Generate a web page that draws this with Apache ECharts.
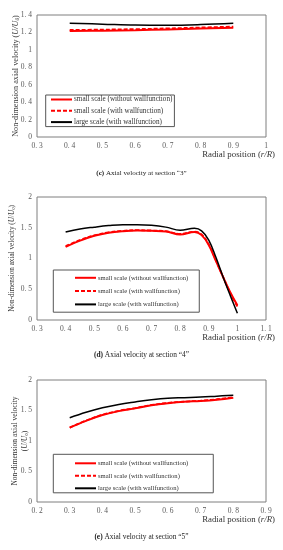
<!DOCTYPE html>
<html><head><meta charset="utf-8">
<script src="https://cdn.jsdelivr.net/npm/echarts@6/dist/echarts.min.js"></script>
<style>html,body{margin:0;padding:0;background:#fff}#c{width:283px;height:550px}</style>
</head><body><div id="c"></div>
<script>
// ---- data ----
const seriesNames = ['small scale (without wallfunction)', 'small scale (with wallfunction)', 'large scale (with wallfunction)'];

const x1 = [0.4, 0.5, 0.6, 0.7, 0.8, 0.9];
const red1 = [1.215, 1.22, 1.225, 1.235, 1.245, 1.255];
const dash1 = [1.228, 1.232, 1.238, 1.246, 1.256, 1.267];
const black1 = [1.305, 1.295, 1.285, 1.283, 1.29, 1.305];

const x2 = [0.4, 0.45, 0.5, 0.55, 0.6, 0.65, 0.7, 0.75, 0.8, 0.85, 0.875, 0.9, 0.925, 0.95, 0.975, 1.0];
const red2 = [1.19, 1.29, 1.37, 1.42, 1.445, 1.455, 1.45, 1.44, 1.39, 1.43, 1.38, 1.22, 0.96, 0.70, 0.45, 0.24];
const dash2 = [1.20, 1.30, 1.375, 1.425, 1.45, 1.46, 1.455, 1.445, 1.40, 1.435, 1.39, 1.23, 0.97, 0.70, 0.44, 0.22];
const black2 = [1.43, 1.48, 1.51, 1.535, 1.55, 1.55, 1.54, 1.51, 1.46, 1.49, 1.45, 1.30, 1.02, 0.70, 0.40, 0.11];

const x3 = [0.3, 0.35, 0.4, 0.45, 0.5, 0.55, 0.6, 0.65, 0.7, 0.75, 0.8];
const red3 = [1.22, 1.33, 1.425, 1.49, 1.535, 1.585, 1.62, 1.645, 1.655, 1.675, 1.71];
const dash3 = [1.22, 1.335, 1.43, 1.495, 1.54, 1.59, 1.625, 1.645, 1.66, 1.685, 1.72];
const black3 = [1.38, 1.47, 1.545, 1.60, 1.64, 1.675, 1.70, 1.71, 1.72, 1.735, 1.75];

const captions = ['(c)', '(d)', '(e)'];
const captionText = [' Axial velocity at section \u201c3\u201d', ' Axial velocity at section \u201c4\u201d', ' Axial velocity at section \u201c5\u201d'];
const xTitle = 'Radial position';

// ---- chart ----
const FONT = '"Liberation Serif","DejaVu Serif",serif';
const zip = (xs, ys) => xs.map((x, i) => [x, ys[i]]);
const fmt = v => { const s = String(+v.toFixed(1)); return s.replace('.', '. '); };

const panels = [
  {top: 15, height: 122, xmin: 0.3, xmax: 1.0, ymax: 1.4, yint: 0.2, x: x1, r: red1, d: dash1, b: black1, nameSize: 8.2,
   name: '{n|Non-dimension axial velocity (}{i|U/U}{s|0}{n|)}', nameGap: 16,
   legend: {left: 45.7, top: 95, padding: [1, 2, 1, 4.3], itemGap: 4.3, fontSize: 7.2}, capSize: 7.1},
  {top: 197, height: 123, xmin: 0.3, xmax: 1.1, ymax: 2, yint: 0.5, x: x2, r: red2, d: dash2, b: black2, nameSize: 7.2,
   name: '{n|Non-dimension axial velocity (}{i|U/U}{s|0}{n|)}', nameGap: 20,
   legend: {left: 53.3, top: 270, padding: [4.3, 11, 4.3, 20.7], itemGap: 6.3, fontSize: 6.6}, capSize: 7.4},
  {top: 380, height: 122, xmin: 0.2, xmax: 0.9, ymax: 2, yint: 0.5, x: x3, r: red3, d: dash3, b: black3, nameSize: 7.5,
   name: '{n|Non-dimension axial velocity}\n{n|(}{i|U/U}{s|0}{n|)}', nameGap: 7,
   legend: {left: 53.3, top: 454.3, padding: [5.5, 25, 1, 20.7], itemGap: 5.5, fontSize: 6.6}, capSize: 7.4}
];

const option = {
  backgroundColor: '#fff',
  animation: false,
  textStyle: {fontFamily: FONT},
  grid: [], xAxis: [], yAxis: [], series: [], legend: [], graphic: []
};

panels.forEach((p, i) => {
  option.grid.push({left: 37, top: p.top, width: 229, height: p.height, show: true, borderColor: '#7f7f7f', borderWidth: 1, containLabel: false});
  option.xAxis.push({
    type: 'value', gridIndex: i, min: p.xmin, max: p.xmax, interval: 0.1,
    axisLine: {show: false}, axisTick: {show: false}, splitLine: {show: false},
    axisLabel: {formatter: fmt, fontSize: 7.5, color: '#595959', fontFamily: FONT, margin: 5}
  });
  option.yAxis.push({
    type: 'value', gridIndex: i, min: 0, max: p.ymax, interval: p.yint,
    axisLine: {show: false}, axisTick: {show: false}, splitLine: {show: false},
    axisLabel: {formatter: fmt, fontSize: 7.5, color: '#595959', fontFamily: FONT, margin: 5},
    name: p.name, nameLocation: 'middle', nameRotate: 90, nameGap: p.nameGap, nameMoveOverlap: false,
    nameTextStyle: {
      fontFamily: FONT, color: '#333',
      rich: {
        n: {fontSize: p.nameSize, fontFamily: FONT, color: '#333', lineHeight: p.nameSize * 1.3},
        i: {fontSize: p.nameSize, fontFamily: FONT, color: '#333', fontStyle: 'italic', lineHeight: p.nameSize * 1.3},
        s: {fontSize: p.nameSize * 0.65, fontFamily: FONT, color: '#333', fontStyle: 'italic', padding: [p.nameSize * 0.4, 0, 0, 0], lineHeight: p.nameSize * 1.3}
      }
    }
  });
  const common = {type: 'line', xAxisIndex: i, yAxisIndex: i, smooth: 0.4, symbol: 'none', showSymbol: false};
  option.series.push(Object.assign({}, common, {name: seriesNames[0], data: zip(p.x, p.r), lineStyle: {color: '#ff0000', width: 2}, itemStyle: {color: '#ff0000'}, z: 2}));
  option.series.push(Object.assign({}, common, {name: seriesNames[1], data: zip(p.x, p.d), lineStyle: {color: '#ff0000', width: 1.8, type: [4, 2]}, itemStyle: {color: '#ff0000'}, z: 3}));
  option.series.push(Object.assign({}, common, {name: seriesNames[2], data: zip(p.x, p.b), lineStyle: {color: '#000000', width: 1.5}, itemStyle: {color: '#000000'}, z: 4}));
  option.legend.push({
    data: seriesNames, orient: 'vertical', left: p.legend.left, top: p.legend.top,
    padding: p.legend.padding, itemGap: p.legend.itemGap, itemWidth: 21, itemHeight: 8,
    borderColor: '#555', borderWidth: 1, selectedMode: false,
    itemStyle: {opacity: 0},
    textStyle: {fontSize: p.legend.fontSize, color: '#333', fontFamily: FONT, padding: [0, 0, 0, -3]}
  });
  const gBottom = p.top + p.height;
  option.graphic.push({
    type: 'text', right: 8, top: gBottom + 13,
    style: {
      text: '{a|' + xTitle + ' (}{i|r/R}{a|)}',
      rich: {a: {fontSize: 8.8, fontFamily: FONT, fill: '#333'}, i: {fontSize: 8.8, fontFamily: FONT, fill: '#333', fontStyle: 'italic'}}
    }
  });
  option.graphic.push({
    type: 'text', left: 'center', top: gBottom + (i === 0 ? 33 : 32),
    style: {
      text: '{b|' + captions[i] + '}{a|' + captionText[i] + '}',
      rich: {b: {fontSize: p.capSize, fontFamily: FONT, fill: '#222', fontWeight: 'bold'}, a: {fontSize: p.capSize, fontFamily: FONT, fill: '#222'}}
    }
  });
});

const chart = echarts.init(document.getElementById('c'), null, {renderer: 'canvas'});
chart.setOption(option);
</script>
</body></html>
